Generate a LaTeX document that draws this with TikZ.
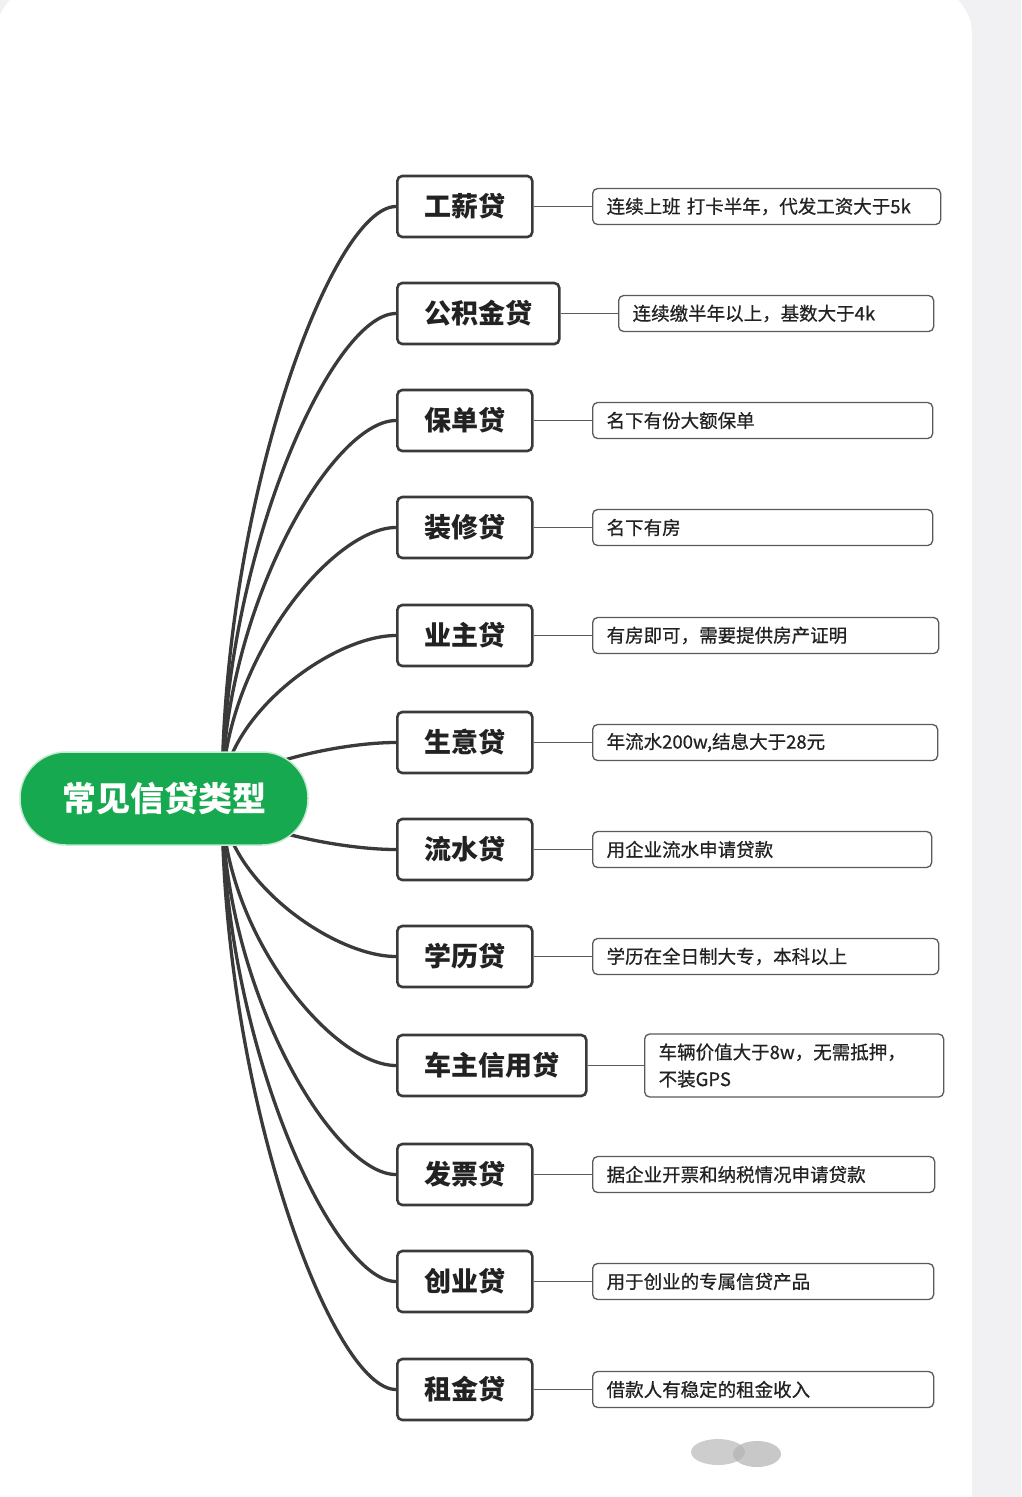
\documentclass[tikz,border=0pt]{standalone}
\usepackage{fontspec}
\setmainfont{Noto Sans CJK SC}
\newfontfamily\detfont[FakeBold=0.6]{Noto Sans CJK SC}
\definecolor{bggray}{HTML}{F1F1F3}
\definecolor{rootgreen}{HTML}{17A94F}
\definecolor{linegray}{HTML}{3A3A3A}
\definecolor{thingray}{HTML}{5A5A5A}
\definecolor{txt}{HTML}{222222}
\pgfdeclarelayer{back}
\pgfdeclarelayer{mid}
\pgfsetlayers{back,mid,main}
\begin{document}
\begin{tikzpicture}[x=1pt,y=-1pt,
  rootnode/.style={fill=rootgreen, draw=rootgreen!25, line width=1.5pt, rounded corners=46pt,
    minimum width=288pt, minimum height=93pt, text=white, inner sep=0pt,
    font=\fontsize{34}{40}\selectfont\bfseries},
  catbox/.style={draw=linegray, line width=2.6pt, rounded corners=5pt, fill=white,
    minimum height=61pt, inner xsep=27pt, inner ysep=0pt, anchor=west, text=txt,
    font=\fontsize{27}{32}\selectfont\bfseries},
  detbox/.style={draw=thingray, line width=1.3pt, rounded corners=5pt, fill=white,
    minimum height=36pt, inner xsep=14pt, inner ysep=0pt, anchor=west, align=left, text=txt,
    font=\detfont\fontsize{18.5}{27}\selectfont},
  branch/.style={draw=linegray, line width=3.3pt},
  link/.style={draw=thingray, line width=1.3pt}]
\useasboundingbox (0,0) rectangle (1021,1497);
\begin{pgfonlayer}{back}
  \fill[bggray] (0,0) rectangle (1021,1497);
  \fill[white, rounded corners=48pt] (-4,-14) rectangle (972,1560);
  \fill[gray!55, opacity=0.7] (718,1452) ellipse [x radius=27pt, y radius=13pt];
  \fill[gray!60, opacity=0.7] (757,1454) ellipse [x radius=24pt, y radius=13pt];
\end{pgfonlayer}

\node[rootnode] (root) at (164,798.5) {常见信贷类型};
\coordinate (hub) at (222,798);

\node[catbox] (a) at (396,206.5) {工薪贷};
\node[catbox] (b) at (396,313.5) {公积金贷};
\node[catbox] (c) at (396,420.5) {保单贷};
\node[catbox] (d) at (396,527.5) {装修贷};
\node[catbox] (e) at (396,635.5) {业主贷};
\node[catbox] (f) at (396,742.5) {生意贷};
\node[catbox] (g) at (396,849.5) {流水贷};
\node[catbox] (h) at (396,956.5) {学历贷};
\node[catbox] (i) at (396,1065.5) {车主信用贷};
\node[catbox] (j) at (396,1174.5) {发票贷};
\node[catbox] (k) at (396,1281.5) {创业贷};
\node[catbox] (l) at (396,1389.5) {租金贷};

\node[detbox, text width=320pt] (da) at (592,206.5) {连续上班 打卡半年，代发工资大于5k};
\node[detbox, text width=287pt] (db) at (618,313.5) {连续缴半年以上，基数大于4k};
\node[detbox, text width=312pt] (dc) at (592,420.5) {名下有份大额保单};
\node[detbox, text width=312pt] (dd) at (592,527.5) {名下有房};
\node[detbox, text width=318pt] (de) at (592,635.5) {有房即可，需要提供房产证明};
\node[detbox, text width=317pt] (df) at (592,742.5) {年流水200w,结息大于28元};
\node[detbox, text width=311pt] (dg) at (592,849.5) {用企业流水申请贷款};
\node[detbox, text width=318pt] (dh) at (592,956.5) {学历在全日制大专，本科以上};
\node[detbox, text width=271pt, minimum height=63pt] (di) at (644,1065.5) {车辆价值大于8w，无需抵押，\\不装GPS};
\node[detbox, text width=314pt] (dj) at (592,1174.5) {据企业开票和纳税情况申请贷款};
\node[detbox, text width=313pt] (dk) at (592,1281.5) {用于创业的专属信贷产品};
\node[detbox, text width=313pt] (dl) at (592,1389.5) {借款人有稳定的租金收入};

\begin{pgfonlayer}{mid}
  \foreach \n/\ty in {a/206.5,b/313.5,c/420.5,d/527.5,e/635.5,f/742.5,g/849.5,h/956.5,i/1065.5,j/1174.5,k/1281.5,l/1389.5}{
    \draw[branch] (hub) .. controls (222,{(798+\ty)/2}) and (332,\ty) .. (\n.west);
    \draw[link] (\n.east) -- (d\n.west);
  }
\end{pgfonlayer}
\end{tikzpicture}
\end{document}
